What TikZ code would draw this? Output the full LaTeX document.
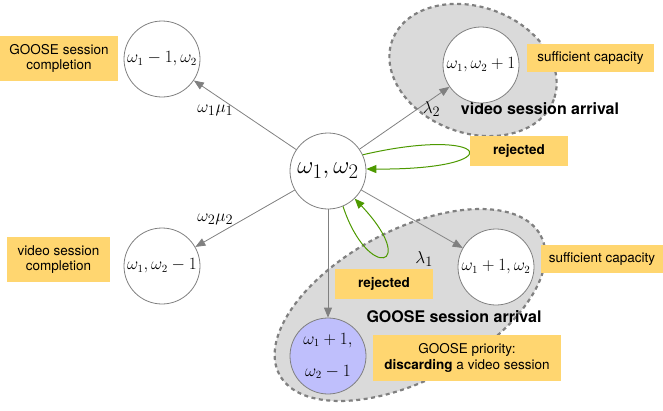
\documentclass[tikz,border=0pt]{standalone}
\usepackage{fontspec}
\newfontfamily\boxfont{TeX Gyre Heros}
\usetikzlibrary{arrows.meta}
\usetikzlibrary{positioning}

\definecolor{notegold}{HTML}{FFD670}
\definecolor{blobgray}{HTML}{DADADA}
\definecolor{lavender}{HTML}{BFBFFC}
\definecolor{rejgreen}{HTML}{4D9900}
\definecolor{edgegray}{HTML}{808080}

\begin{document}
\begin{tikzpicture}[x=1pt, y=-1pt,
	state/.style={circle, draw=edgegray, line width=0.8pt, fill=white, minimum size=76pt, inner sep=0pt, font=\fontsize{16}{18}\selectfont},
	note/.style={fill=notegold, inner sep=0pt, align=center, font=\boxfont\fontsize{13.5}{15.5}\selectfont},
	blob/.style={fill=blobgray, draw=edgegray, line width=2.2pt, dash pattern=on 4pt off 3.5pt},
	trans/.style={draw=edgegray, line width=0.8pt, -{Triangle[length=10pt, width=8pt]}},
	reject/.style={draw=rejgreen, line width=1pt, -{Triangle[length=10pt, width=8pt]}},
	rate/.style={font=\fontsize{19}{21}\selectfont, inner sep=0pt},
	caption/.style={font=\boxfont\bfseries\fontsize{16}{18}\selectfont}]
	\useasboundingbox (0,0) rectangle (663,410);

	% --- Arrival regions ---
	\draw[blob, rotate around={-20:(473,70)}] (473,70) ellipse [x radius=86, y radius=63];
	\draw[blob, rotate around={28:(410,305)}] (410,305) ellipse [x radius=148, y radius=75];
	\node[caption] (vlabel) at (540,109) {video session arrival};
	\node[caption] (glabel) at (454,317) {GOOSE session arrival};

	% --- States ---
	\node[state, font=\fontsize{29}{32}\selectfont] (w) at (328,171) {$\omega_1,\omega_2$};
	\node[state] (gdone) at (162,59) {$\omega_1-1,\omega_2$};
	\node[state] (vdone) at (162,266) {$\omega_1,\omega_2-1$};
	\node[state] (varr) at (481,65) {$\omega_1,\omega_2+1$};
	\node[state] (garr) at (496,267) {$\omega_1+1,\omega_2$};
	\node[state, fill=lavender, align=center, font=\fontsize{16}{32}\selectfont] (gprio) at (328,356) {$\omega_1+1,$\\$\omega_2-1$};

	% --- Transitions ---
	\draw[trans] (w) -- (gdone) node[rate, pos=0.79, yshift=-15pt] {$\omega_1\mu_1$};
	\draw[trans] (w) -- (vdone) node[rate, pos=0.8, yshift=16pt] {$\omega_2\mu_2$};
	\draw[trans] (w) -- (varr) node[rate, pos=0.79, xshift=1pt, yshift=-9pt] {$\lambda_2$};
	\draw[trans] (w) -- (garr) node[rate, pos=0.62, yshift=-33pt] {$\lambda_1$};
	\draw[trans] (w) -- (gprio);

	% --- Notes ---
	\node[note, minimum width=118pt, minimum height=45pt] (gnote) at (59,58.5) {GOOSE session\\completion};
	\node[note, minimum width=103pt, minimum height=45pt] (vnote) at (58.5,259.5) {video session\\completion};
	\node[note, minimum width=127pt, minimum height=28pt] (vcap) at (590.5,58) {sufficient capacity};
	\node[note, minimum width=98pt, minimum height=30pt] (vrej) at (519,151) {\bfseries rejected};
	\node[note, minimum width=122pt, minimum height=28pt] (gcap) at (602,259) {sufficient capacity};
	\node[note, minimum width=98pt, minimum height=30pt] (grej) at (384,284) {\bfseries rejected};
	\node[note, minimum width=188pt, minimum height=46pt] (pnote) at (467,358) {GOOSE priority:\\{\bfseries discarding} a video session};

	% --- Rejections ---
	\draw[reject] (w.25) .. controls (490,125) and (515,170) .. (w.3);
	\draw[reject] (w.-67) .. controls (368,282) and (420,268) .. (w.-46);
\end{tikzpicture}
\end{document}
